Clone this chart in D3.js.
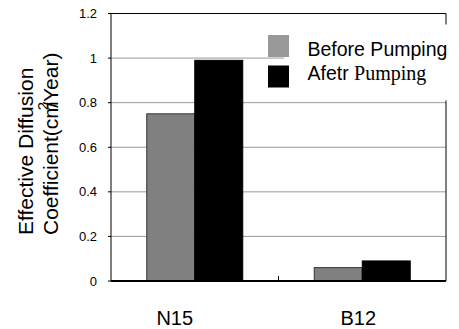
<!DOCTYPE html>
<html>
<head>
<meta charset="utf-8">
<script src="https://d3js.org/d3.v7.min.js"></script>
<style>
  body { margin: 0; background: #fff; }
  svg { display: block; }
  .tick-label { font-family: "Liberation Sans Narrow", "Liberation Sans", Arial, sans-serif; font-size: 13px; fill: #000; }
</style>
</head>
<body>
<script>
  var categories = ["N15", "B12"];
  var seriesNames = ["Before Pumping", "Afetr Pumping"];
  var beforeValues = [0.75, 0.06];
  var afterValues = [0.99, 0.09];
  var yTicks = [0, 0.2, 0.4, 0.6, 0.8, 1, 1.2];
  var yTickLabels = ["0", "0.2", "0.4", "0.6", "0.8", "1", "1.2"];

  var W = 459, H = 329;
  var margin = {top: 13.5, right: 13, bottom: 48, left: 111};
  var width = W - margin.left - margin.right,
      height = H - margin.top - margin.bottom;

  var svg = d3.select("body").append("svg")
    .attr("width", W).attr("height", H);
  var g = svg.append("g")
    .attr("transform", "translate(" + margin.left + "," + margin.top + ")");

  var x = d3.scaleBand().domain(categories).range([0, width]).paddingInner(0).paddingOuter(0);
  var barW = 48;
  var xs = d3.scaleBand().domain(seriesNames).range([x.bandwidth() / 2 - barW, x.bandwidth() / 2 + barW]);
  var y = d3.scaleLinear().domain([0, 1.2]).range([height, 0]);

  var fills = ["#808080", "#000"];
  var strokes = ["#333", "#000"];
  var sans = "'Liberation Sans', Arial, sans-serif";

  // grid
  g.selectAll(".grid").data(yTicks.slice(1, -1)).enter().append("line")
    .attr("x1", 0).attr("x2", width)
    .attr("y1", function(d) { return y(d); }).attr("y2", function(d) { return y(d); })
    .attr("stroke", "#999").attr("stroke-width", 1);

  // frame
  g.append("line").attr("x1", 0).attr("x2", width).attr("y1", 0).attr("y2", 0).attr("stroke", "#000");
  g.append("line").attr("x1", width).attr("x2", width).attr("y1", 0).attr("y2", height).attr("stroke", "#000");

  // bars
  var data = [];
  categories.forEach(function(c, i) {
    data.push({cat: c, s: 0, v: beforeValues[i]});
    data.push({cat: c, s: 1, v: afterValues[i]});
  });
  g.selectAll(".bar").data(data).enter().append("rect")
    .attr("x", function(d) { return x(d.cat) + xs(seriesNames[d.s]); })
    .attr("width", xs.bandwidth())
    .attr("y", function(d) { return y(d.v); })
    .attr("height", function(d) { return height - y(d.v); })
    .attr("fill", function(d) { return fills[d.s]; })
    .attr("stroke", function(d) { return strokes[d.s]; })
    .attr("stroke-width", 1);

  // legend
  var lg = g.append("g").attr("transform", "translate(173,11)");
  lg.append("rect").attr("x", 0).attr("y", 0).attr("width", 180).attr("height", 76).attr("fill", "#fff");
  lg.append("rect").attr("x", -16).attr("y", 10.5).attr("width", 21).attr("height", 22).attr("fill", "#999");
  lg.append("rect").attr("x", -16).attr("y", 41).attr("width", 21).attr("height", 22).attr("fill", "#000");
  lg.append("text").attr("x", 23.5).attr("y", 31)
    .style("font-family", sans).style("font-size", "19.5px")
    .text(seriesNames[0]);
  var t2 = lg.append("text").attr("x", 23.5).attr("y", 55.5).style("font-size", "19.5px");
  t2.append("tspan").style("font-family", sans).text("Afetr ");
  t2.append("tspan").style("font-family", "'Liberation Serif', 'Times New Roman', serif").style("font-size", "20px").text("Pumping");

  // y axis
  g.append("line").attr("x1", 0).attr("x2", 0).attr("y1", 0).attr("y2", height).attr("stroke", "#000");
  g.selectAll(".ytick").data(yTicks).enter().append("line")
    .attr("x1", -3).attr("x2", 0)
    .attr("y1", function(d) { return y(d); }).attr("y2", function(d) { return y(d); })
    .attr("stroke", "#000");
  g.selectAll(".ylab").data(yTicks).enter().append("text")
    .attr("class", "tick-label")
    .attr("x", -14).attr("y", function(d) { return y(d); })
    .attr("dy", "0.35em").attr("text-anchor", "end")
    .text(function(d, i) { return yTickLabels[i]; });

  // x axis
  g.append("line").attr("x1", 0).attr("x2", width).attr("y1", height).attr("y2", height)
    .attr("stroke", "#000").attr("stroke-width", 2);
  g.append("line").attr("x1", x.bandwidth()).attr("x2", x.bandwidth())
    .attr("y1", height - 5).attr("y2", height).attr("stroke", "#000");
  var labelShift = [-20, -4];
  g.selectAll(".xlab").data(categories).enter().append("text")
    .attr("x", function(d, i) { return x(d) + x.bandwidth() / 2 + labelShift[i]; })
    .attr("y", height + 43.5)
    .attr("text-anchor", "middle")
    .style("font-family", sans).style("font-size", "20px")
    .text(function(d) { return d; });

  // y title
  var yt = svg.append("text")
    .attr("transform", "translate(33,235) rotate(-90)")
    .attr("text-anchor", "start")
    .style("font-family", sans).style("font-size", "21px");
  yt.append("tspan").attr("x", 0).attr("y", 0).text("Effective Diffusion");
  yt.append("tspan").attr("x", 0).attr("y", 25).text("Coefficient(cm");
  yt.append("tspan").attr("dy", -10).attr("dx", -9).style("font-size", "15px").text("2");
  yt.append("tspan").attr("dy", 10).attr("dx", -6).text("/Year)");
</script>
</body>
</html>
